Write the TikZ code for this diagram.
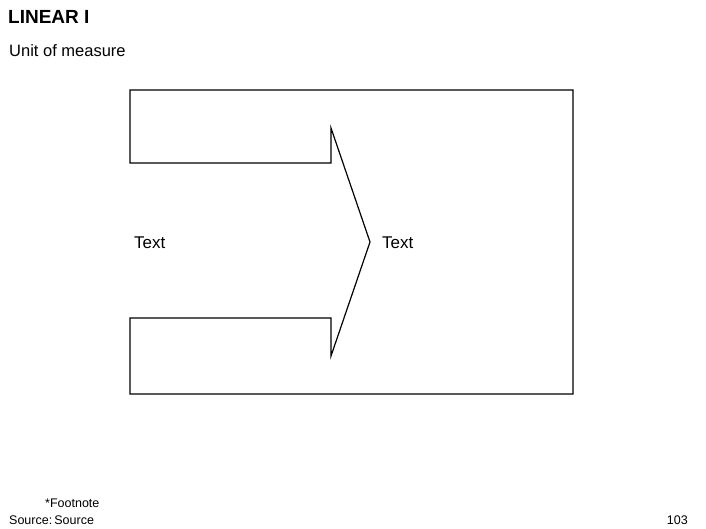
\documentclass[tikz,border=0pt]{standalone}
\usepackage{fontspec}
\setmainfont{Liberation Sans}
\usepackage{tikz}

\tikzset{
    lbl/.style={inner sep=0pt, anchor=west, font=\fontsize{17}{20}\selectfont},
    small/.style={inner sep=0pt, font=\fontsize{12.5}{15}\selectfont}
}

\begin{document}
\begin{tikzpicture}[x=1pt, y=-1pt]
        \useasboundingbox (0,0) rectangle (706,529);

        % Titulo
        \node[inner sep=0pt, anchor=base west, font=\fontsize{19}{22}\selectfont\bfseries] (title) at (8,24) {LINEAR I};
        \node[inner sep=0pt, anchor=base west, font=\fontsize{16.5}{19}\selectfont] (unit) at (9,57) {Unit of measure};

        % Marco con flecha
        \draw[line width=1.2pt, line join=miter] (130,163) -- (130,90) -- (573,90) -- (573,394) -- (130,394) -- (130,318)
            -- (331,318) -- (331,356) -- (370,242) -- (331,128) -- (331,163) -- cycle;
        \draw[white, line width=2pt] (130,164) -- (130,317);

        % Textos
        \node[lbl] (left) at (134,243) {Text};
        \node[lbl] (right) at (382,243) {Text};

        % Pie
        \node[small, anchor=base west] (foot) at (45,507) {*Footnote};
        \node[small, anchor=base west] (src) at (9,524) {Source:\,Source};
        \node[small, anchor=base east] (page) at (688,524) {103};
    \end{tikzpicture}
\end{document}
